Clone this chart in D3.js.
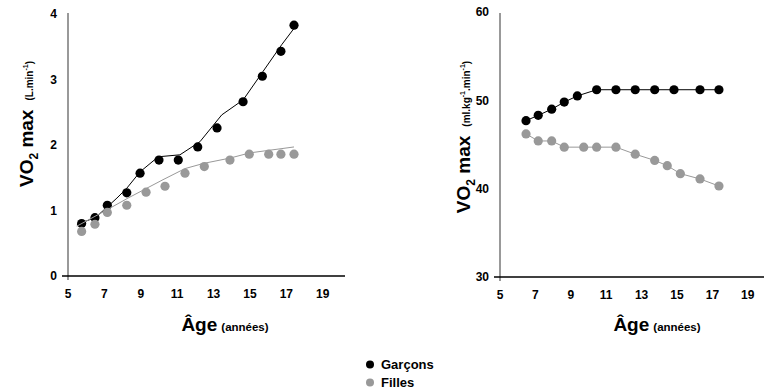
<!DOCTYPE html>
<html>
<head>
<meta charset="utf-8">
<script src="https://d3js.org/d3.v7.min.js"></script>
<style>
  body { margin: 0; background: #fff; }
  svg { font-family: "Liberation Sans", Arial, sans-serif; font-weight: bold; }
</style>
</head>
<body>
<div id="chart"></div>
<script>
// ----- data -----
// left panel: absolute VO2 max (L.min-1)
var boysAgeL  = [5.75, 6.48, 7.16, 8.23, 8.96, 10.0, 11.06, 12.13, 13.19, 14.62, 15.68, 16.70, 17.42];
var boysAbsL  = [0.80, 0.89, 1.08, 1.27, 1.57, 1.77, 1.77, 1.97, 2.26, 2.66, 3.05, 3.43, 3.83];
var girlsAgeL = [5.75, 6.48, 7.16, 8.23, 9.29, 10.33, 11.43, 12.49, 13.90, 14.96, 16.03, 16.70, 17.42];
var girlsAbsL = [0.68, 0.79, 0.97, 1.08, 1.28, 1.37, 1.57, 1.67, 1.77, 1.86, 1.86, 1.86, 1.86];
// fitted curves drawn over the dots
var boysFitAge  = [5.49, 6.54, 7.14, 7.69, 8.23, 8.96, 9.96, 11.15, 12.25, 13.45, 14.63, 15.71, 16.74, 17.42];
var boysFit     = [0.78, 0.90, 1.05, 1.19, 1.34, 1.59, 1.82, 1.85, 2.05, 2.46, 2.69, 3.12, 3.53, 3.78];
var girlsFitAge = [5.48, 7.14, 8.30, 10.22, 11.43, 12.47, 13.90, 15.0, 17.42];
var girlsFit    = [0.76, 1.01, 1.19, 1.47, 1.64, 1.72, 1.80, 1.88, 1.97];

// right panel: relative VO2 max (ml.kg-1.min-1)
var boysAgeR  = [6.47, 7.16, 7.92, 8.63, 9.37, 10.46, 11.55, 12.64, 13.74, 14.83, 16.30, 17.37];
var boysRelR  = [47.7, 48.3, 49.0, 49.8, 50.5, 51.2, 51.2, 51.2, 51.2, 51.2, 51.2, 51.2];
var girlsAgeR = [6.47, 7.16, 7.92, 8.63, 9.73, 10.46, 11.55, 12.64, 13.74, 14.45, 15.19, 16.30, 17.37];
var girlsRelR = [46.2, 45.4, 45.4, 44.7, 44.7, 44.7, 44.7, 43.9, 43.2, 42.6, 41.7, 41.1, 40.3];

var ageTicks = [5, 7, 9, 11, 13, 15, 17, 19];
var absTicks = [0, 1, 2, 3, 4];
var relTicks = [30, 40, 50, 60];
var legendLabels = ["Garçons", "Filles"];
var colors = ["#000000", "#999999"];

var W = 764, H = 392;
var svg = d3.select("#chart").append("svg")
    .attr("width", W).attr("height", H);

function zip(a, b) { return a.map(function (d, i) { return [d, b[i]]; }); }

function panel(opt) {
    var x = d3.scaleLinear().domain(opt.xDomain).range(opt.xRange);
    var y = d3.scaleLinear().domain(opt.yDomain).range(opt.yRange);
    var g = svg.append("g");

    // y axis line
    g.append("line")
        .attr("x1", x(opt.xDomain[0])).attr("x2", x(opt.xDomain[0]))
        .attr("y1", opt.yTop).attr("y2", y(opt.yDomain[0]) + 4)
        .attr("stroke", "#555").attr("stroke-width", 1.2);
    // x axis line
    g.append("line")
        .attr("x1", x(opt.xDomain[0]) - 6).attr("x2", opt.xEnd)
        .attr("y1", y(opt.yDomain[0])).attr("y2", y(opt.yDomain[0]))
        .attr("stroke", "#000").attr("stroke-width", 1.4);

    // y tick labels
    g.selectAll(".ytick").data(opt.yTicks).enter().append("text")
        .attr("x", x(opt.xDomain[0]) - 11)
        .attr("y", function (d) { return y(d); })
        .attr("dy", "0.35em")
        .attr("text-anchor", "end")
        .style("font-size", "12px")
        .text(function (d) { return d; });

    // x tick labels
    g.selectAll(".xtick").data(ageTicks).enter().append("text")
        .attr("x", function (d) { return x(d); })
        .attr("y", y(opt.yDomain[0]) + 22)
        .attr("text-anchor", "middle")
        .style("font-size", "12px")
        .text(function (d) { return d; });

    // x axis title
    var xt = g.append("text")
        .attr("x", opt.xTitleX).attr("y", 331)
        .attr("text-anchor", "middle");
    xt.append("tspan").style("font-size", "19px").text("Âge");
    xt.append("tspan").style("font-size", "11.5px").attr("dx", 4).text("(années)");

    // y axis title
    var yt = g.append("text")
        .attr("transform", "translate(" + opt.yTitleX + "," + opt.yTitleY + ") rotate(-90)")
        .attr("text-anchor", "middle");
    yt.append("tspan").style("font-size", "19px").text("VO");
    yt.append("tspan").style("font-size", "12px").attr("dy", 5).text("2");
    yt.append("tspan").style("font-size", "19px").attr("dy", -5).text(" max");
    opt.unit.forEach(function (u, k) {
        var t = yt.append("tspan").style("font-size", u.sup ? "7px" : "10px");
        if (k === 0) t.attr("dx", 9);
        if (u.dy) t.attr("dy", u.dy);
        t.text(u.t);
    });

    var line = d3.line()
        .x(function (d) { return x(d[0]); })
        .y(function (d) { return y(d[1]); });

    opt.series.forEach(function (s, i) {
        g.append("path")
            .datum(s.line)
            .attr("fill", "none")
            .attr("stroke", colors[i])
            .attr("stroke-width", 1)
            .attr("d", line);
        g.selectAll(".dot" + i).data(s.dots).enter().append("circle")
            .attr("cx", function (d) { return x(d[0]); })
            .attr("cy", function (d) { return y(d[1]); })
            .attr("r", 4.6)
            .attr("fill", colors[i]);
    });
}

panel({
    xDomain: [5, 20.2], xRange: [68, 344.6], xEnd: 345,
    yDomain: [0, 4], yRange: [276, 14], yTop: 13, yTicks: absTicks,
    xTitleX: 225, yTitleX: 33, yTitleY: 124,
    unit: [{ t: "(L.min" }, { t: "-1", sup: true, dy: -5 }, { t: ")", dy: 5 }],
    series: [
        { dots: zip(boysAgeL, boysAbsL), line: zip(boysFitAge, boysFit) },
        { dots: zip(girlsAgeL, girlsAbsL), line: zip(girlsFitAge, girlsFit) }
    ]
});

panel({
    xDomain: [5, 20], xRange: [500, 765.5], xEnd: 764,
    yDomain: [30, 60], yRange: [277, 12], yTop: 13, yTicks: relTicks,
    xTitleX: 657, yTitleX: 470, yTitleY: 137,
    unit: [{ t: "(ml.kg" }, { t: "-1", sup: true, dy: -5 }, { t: ".min", dy: 5 },
           { t: "-1", sup: true, dy: -5 }, { t: ")", dy: 5 }],
    series: [
        { dots: zip(boysAgeR, boysRelR), line: zip(boysAgeR, boysRelR) },
        { dots: zip(girlsAgeR, girlsRelR), line: zip(girlsAgeR, girlsRelR) }
    ]
});

// legend
var legend = svg.append("g");
legendLabels.forEach(function (lab, i) {
    legend.append("circle")
        .attr("cx", 370).attr("cy", 364.5 + i * 18)
        .attr("r", 4).attr("fill", colors[i]);
    legend.append("text")
        .attr("x", 381).attr("y", 369 + i * 18)
        .style("font-size", "13px")
        .text(lab);
});
</script>
</body>
</html>
